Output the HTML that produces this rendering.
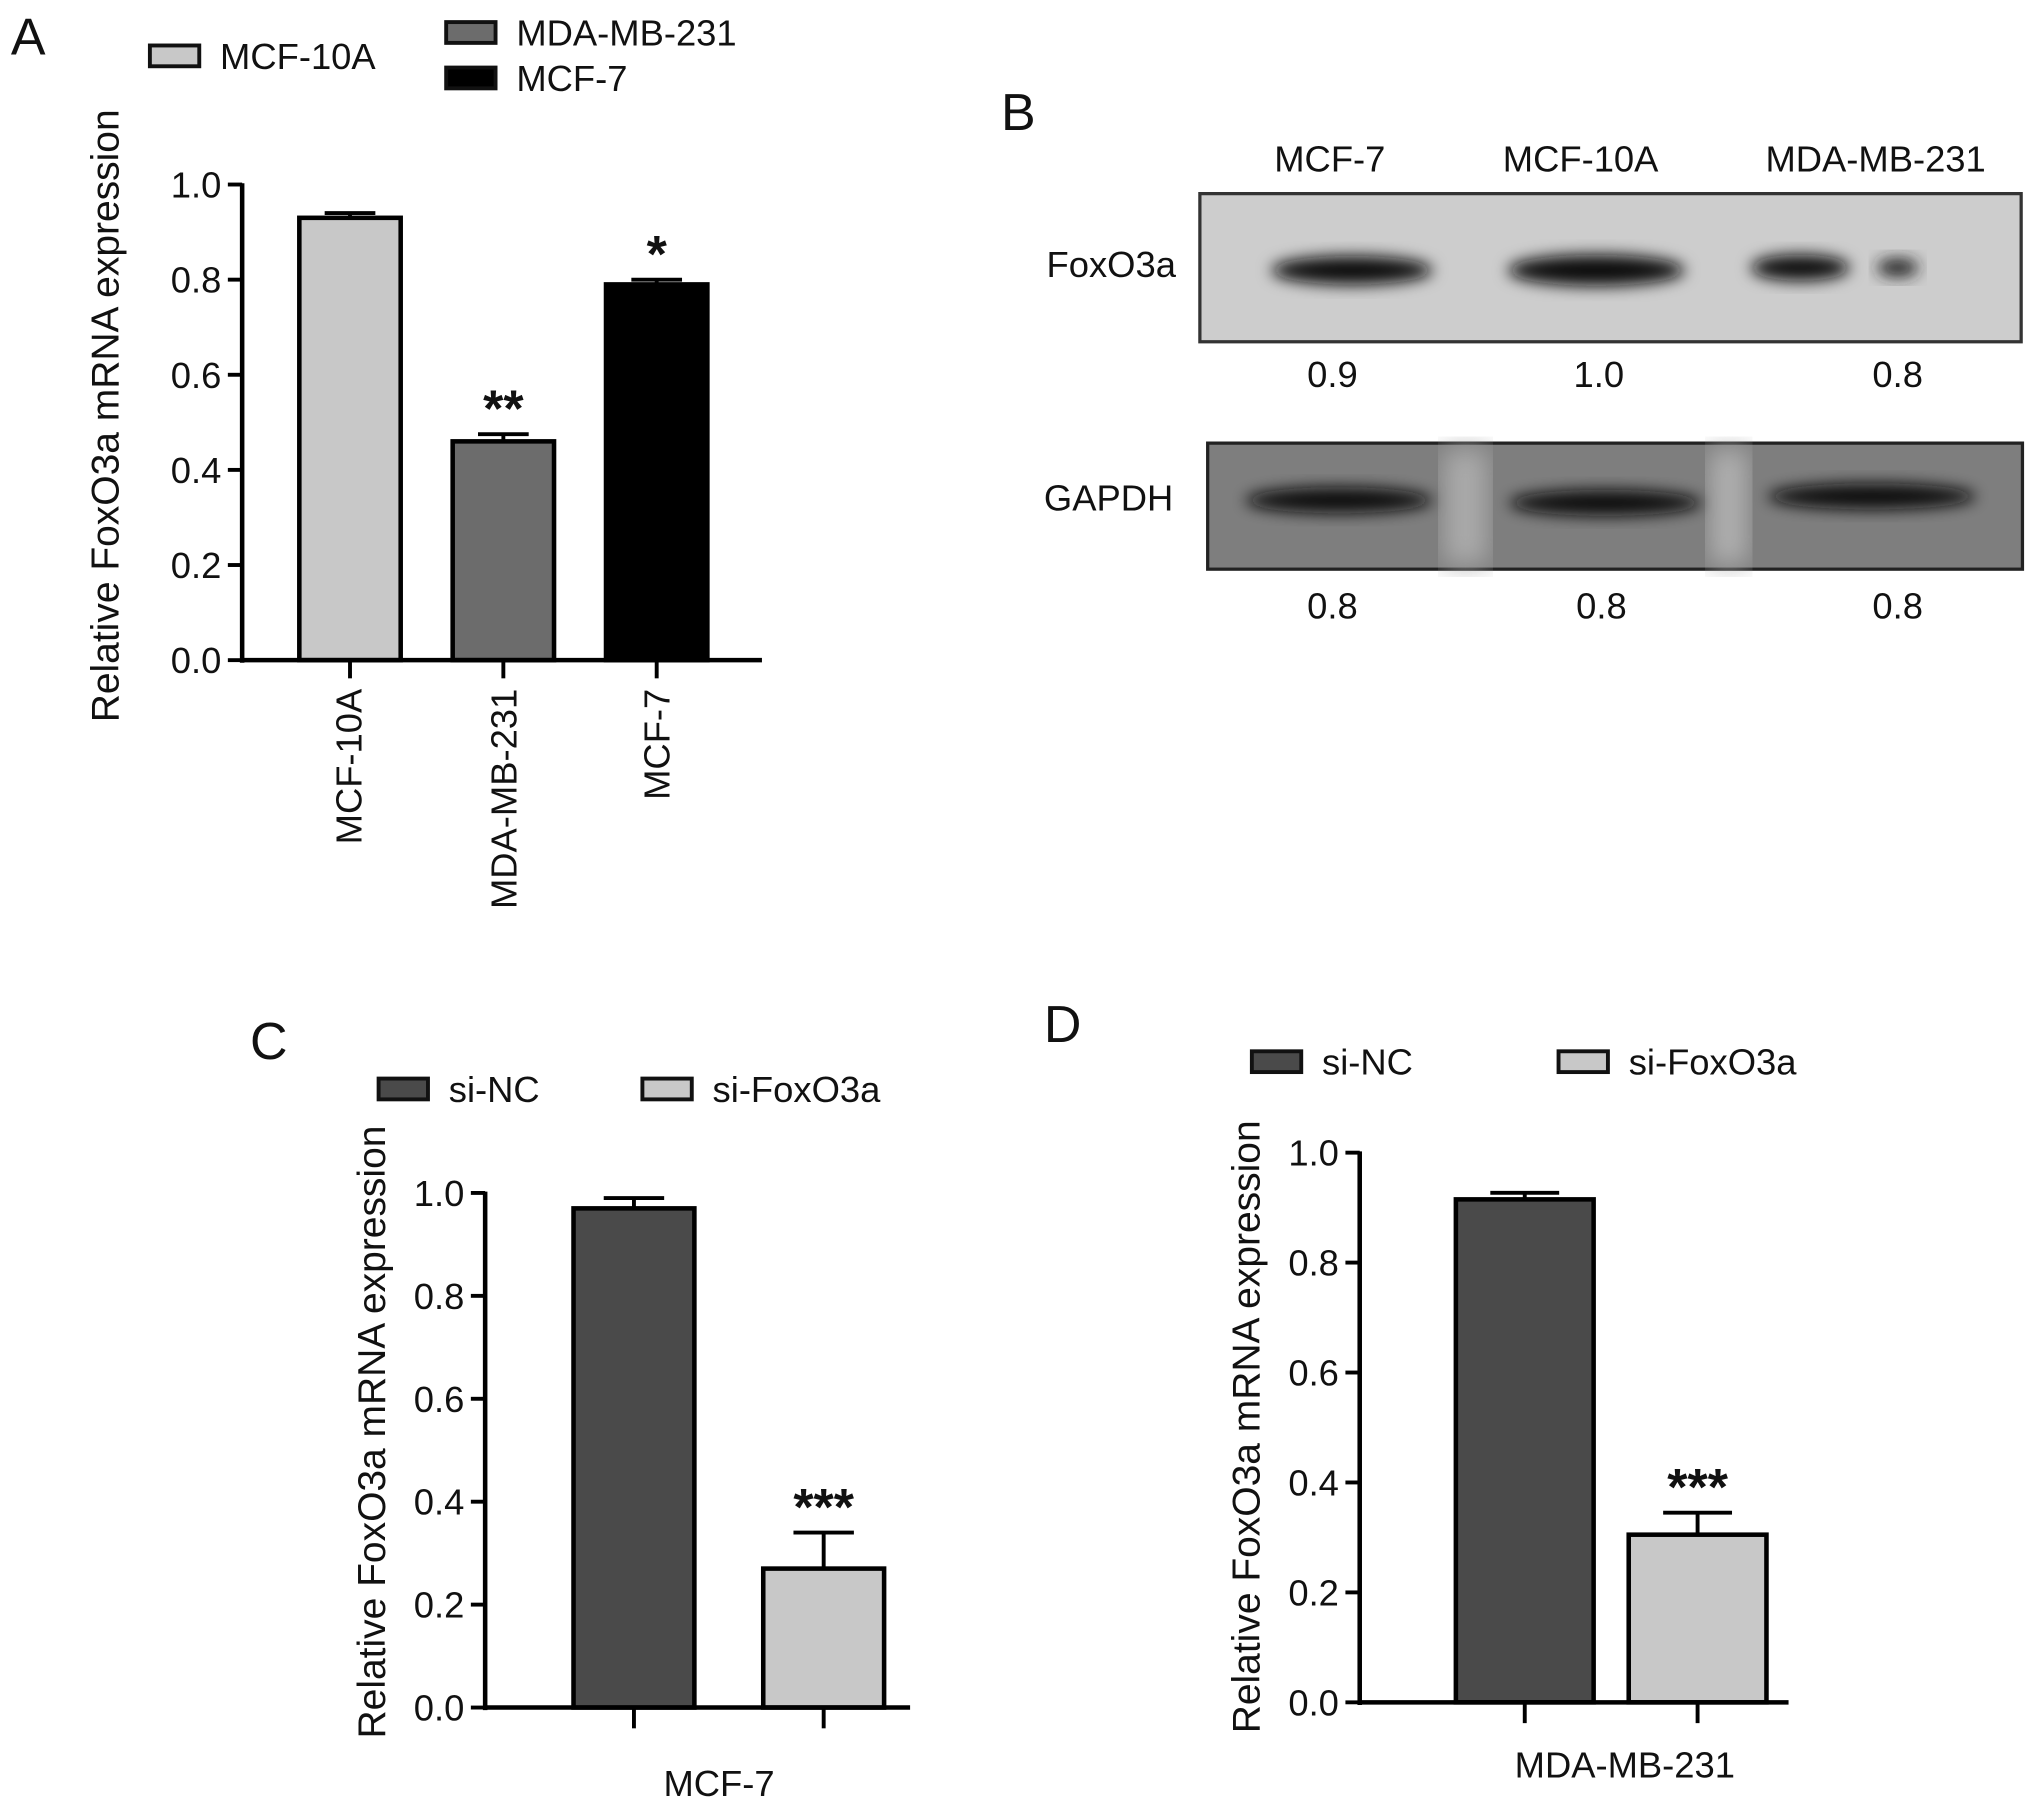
<!DOCTYPE html>
<html><head><meta charset="utf-8"><style>
html,body{margin:0;padding:0;background:#fff}
svg{display:block}
text{font-family:"Liberation Sans",Arial,sans-serif;fill:#111}
</style></head><body>
<svg id="fig" width="2032" height="1805" viewBox="0 0 1563 1389" xmlns="http://www.w3.org/2000/svg">
<defs>
<filter id="blur" x="-20%" y="-50%" width="140%" height="200%"><feGaussianBlur stdDeviation="6"/></filter>
<filter id="blur2"><feGaussianBlur stdDeviation="10"/></filter>
</defs>
<g id="root"></g>
</svg>
<script>
// Panel A data
const aCats = ["MCF-10A","MDA-MB-231","MCF-7"];
const aVals = [0.93, 0.46, 0.79];
const aErr = [0.01, 0.015, 0.01];
const aSig = ["", "**", "*"];
const yTicks = [0.0,0.2,0.4,0.6,0.8,1.0];
const yTickLabels = ["0.0","0.2","0.4","0.6","0.8","1.0"];
// Panel C data
const cCats = ["si-NC","si-FoxO3a"];
const cVals = [0.97, 0.27];
const cErr = [0.02, 0.07];
const cSig = ["", "***"];
// Panel D data
const dVals = [0.915, 0.305];
const dErr = [0.012, 0.04];
const dSig = ["", "***"];
// Panel B densitometry
const bLanes = ["MCF-7","MCF-10A","MDA-MB-231"];
const bFox = ["0.9","1.0","0.8"];
const bGapdh = ["0.8","0.8","0.8"];

const NS="http://www.w3.org/2000/svg";
const root=document.getElementById('root');
function el(tag,attrs,parent,txt){const e=document.createElementNS(NS,tag);for(const k in attrs)e.setAttribute(k,attrs[k]);if(txt!==undefined)e.textContent=txt;(parent||root).appendChild(e);return e;}

function panel(cfg){
  const g=el('g',{});
  
  
  const y=v=>cfg.y0-(v/1.0)*(cfg.y0-cfg.y1);
  cfg.vals.forEach((v,i)=>{
    const x=cfg.barX[i];
    const r=el('rect',{x:x,y:y(v),width:cfg.barW,height:cfg.y0-y(v),fill:cfg.colors[i],stroke:'#000','stroke-width':3.5},g);
    
    
    const cx=x+cfg.barW/2, top=y(v+cfg.err[i]);
    el('line',{x1:cx,x2:cx,y1:y(v),y2:top,stroke:'#000','stroke-width':3},g);
    el('line',{x1:cx-cfg.barW*0.25,x2:cx+cfg.barW*0.25,y1:top,y2:top,stroke:'#000','stroke-width':3},g);
    if(cfg.sig[i]){const t=el('text',{x:cx,y:top-6,'text-anchor':'middle','font-size':40,'font-weight':'bold'},g,cfg.sig[i]);
      
      }
    el('line',{x1:cx,x2:cx,y1:cfg.y0,y2:cfg.y0+cfg.tickDown,stroke:'#000','stroke-width':3},g);
  });
  el('line',{x1:cfg.ax,x2:cfg.ax,y1:cfg.y1-1,y2:cfg.y0+2,stroke:'#000','stroke-width':3.5},g);
  el('line',{x1:cfg.ax,x2:cfg.xEnd,y1:cfg.y0,y2:cfg.y0,stroke:'#000','stroke-width':3.5},g);
  yTicks.forEach((t,i)=>{
    el('line',{x1:cfg.ax-11,x2:cfg.ax,y1:y(t),y2:y(t),stroke:'#000','stroke-width':3},g);
    const tl=el('text',{x:cfg.ax-16,y:y(t)+10,'text-anchor':'end','font-size':28},g,yTickLabels[i]);
    
    
  });
  const yt=el('text',{transform:`translate(${cfg.titleX},${cfg.titleY}) rotate(-90)`,'text-anchor':'middle','font-size':30},g,'Relative FoxO3a mRNA expression');
  
  
  return {g,y};
}

const A=panel({name:'panel-a-chart',keys:['mcf-10a','mda-mb-231','mcf-7'],vals:aVals,err:aErr,sig:aSig,colors:['#c8c8c8','#6c6c6c','#000'],
  barX:[230,348,466],barW:78,ax:186,xEnd:586,y0:508,y1:142,tickDown:14,titleX:91,titleY:320});
aCats.forEach((c,i)=>{const cx=[268,387,505][i];
  const t=el('text',{transform:`translate(${cx+10},530) rotate(-90)`,'text-anchor':'end','font-size':28},A.g,c);
  
  });
const C=panel({name:'panel-c-chart',keys:['si-nc','si-foxo3a'],vals:cVals,err:cErr,sig:cSig,colors:['#4a4a4a','#c8c8c8'],
  barX:[441,587],barW:93,ax:373,xEnd:700,y0:1314,y1:918,tickDown:16,titleX:296,titleY:1102});
const cl=el('text',{x:553,y:1382,'text-anchor':'middle','font-size':28},C.g,'MCF-7');

const D=panel({name:'panel-d-chart',keys:['si-nc','si-foxo3a'],vals:dVals,err:dErr,sig:dSig,colors:['#4a4a4a','#c8c8c8'],
  barX:[1120,1253],barW:106,ax:1046,xEnd:1376,y0:1310,y1:887,tickDown:16,titleX:969,titleY:1098});
const dl=el('text',{x:1250,y:1368,'text-anchor':'middle','font-size':28},D.g,'MDA-MB-231');


[['A',8,42],['B',770,100],['C',192,815],['D',803,802]].forEach(([l,x,yy])=>{
  const t=el('text',{x:x,y:yy,'font-size':40},root,l);
  
  });

function leg(x,y,fill,label,name){
  const g=el('g',{});
  
  
  el('rect',{x:x,y:y,width:38,height:16,fill:fill,stroke:'#111','stroke-width':3},g);
  el('text',{x:x+54,y:y+18,'font-size':28},g,label);
}
leg(115,35,'#c8c8c8','MCF-10A','legend-entry-mcf-10a');
leg(343,17,'#6c6c6c','MDA-MB-231','legend-entry-mda-mb-231');
leg(343,52,'#000','MCF-7','legend-entry-mcf-7');
leg(291,830,'#4a4a4a','si-NC','legend-entry-si-nc');
leg(494,830,'#c8c8c8','si-FoxO3a','legend-entry-si-foxo3a');
leg(963,809,'#4a4a4a','si-NC','legend-entry-si-nc');
leg(1199,809,'#c8c8c8','si-FoxO3a','legend-entry-si-foxo3a');

const B=el('g',{});


[1023,1216,1443].forEach((x,i)=>{const t=el('text',{x:x,y:132,'text-anchor':'middle','font-size':28},B,bLanes[i]);
  });
el('rect',{x:923,y:149,width:632,height:114,fill:'#cdcdcd',stroke:'#333','stroke-width':2.5},B);
el('ellipse',{cx:1040,cy:208,rx:62,ry:11,fill:'#111',filter:'url(#blur)'},B);
el('ellipse',{cx:1228,cy:208,rx:68,ry:12,fill:'#0a0a0a',filter:'url(#blur)'},B);
el('ellipse',{cx:1385,cy:206,rx:38,ry:10,fill:'#111',filter:'url(#blur)'},B);
el('ellipse',{cx:1460,cy:206,rx:16,ry:7,fill:'#222',filter:'url(#blur)'},B);
el('text',{x:805,y:213,'font-size':28},B,'FoxO3a');
[1025,1230,1460].forEach((x,i)=>el('text',{x:x,y:298,'text-anchor':'middle','font-size':28},B,bFox[i]));
el('rect',{x:929,y:341,width:627,height:97,fill:'#7e7e7e',stroke:'#222','stroke-width':2.5},B);
el('rect',{x:1110,y:345,width:35,height:90,fill:'#aaaaaa',filter:'url(#blur2)'},B);
el('rect',{x:1315,y:345,width:30,height:90,fill:'#b0b0b0',filter:'url(#blur2)'},B);
el('ellipse',{cx:1030,cy:385,rx:72,ry:10,fill:'#111',filter:'url(#blur)'},B);
el('ellipse',{cx:1235,cy:387,rx:74,ry:10,fill:'#111',filter:'url(#blur)'},B);
el('ellipse',{cx:1440,cy:382,rx:80,ry:10,fill:'#111',filter:'url(#blur)'},B);
el('text',{x:803,y:393,'font-size':28},B,'GAPDH');
[1025,1232,1460].forEach((x,i)=>el('text',{x:x,y:476,'text-anchor':'middle','font-size':28},B,bGapdh[i]));
</script>
</body></html>
